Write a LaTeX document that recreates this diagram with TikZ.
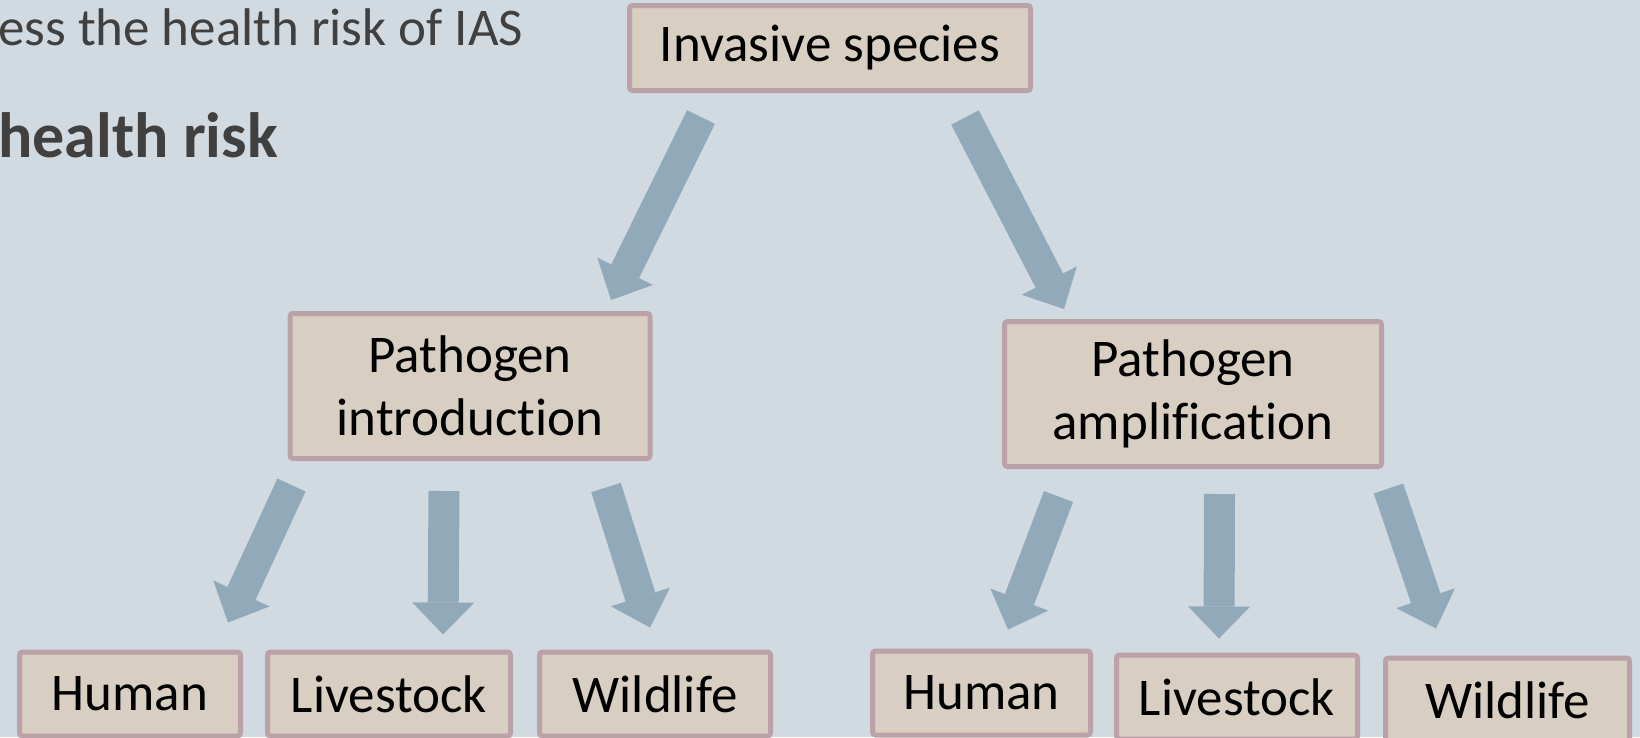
\documentclass[tikz,border=0pt]{standalone}
\usepackage{fontspec}
\setmainfont{Carlito}[Ligatures=NoCommon]
\usetikzlibrary{arrows.meta, calc, positioning}

\definecolor{bgcol}{HTML}{D1DAE1}
\definecolor{boxfill}{HTML}{D8CEC2}
\definecolor{boxline}{HTML}{BBA1A8}
\definecolor{arrowblue}{HTML}{91A9B9}
\definecolor{titlegray}{HTML}{404040}

\begin{document}
\begin{tikzpicture}[
    x=1pt, y=-1pt,
    box/.style={draw=boxline, fill=boxfill, line width=5pt, rounded corners=3pt, inner sep=0pt, align=center, font=\fontsize{53}{63}\selectfont},
    title/.style={anchor=base west, inner sep=0pt, text=titlegray},
    bigarrow/.style={draw=arrowblue, line width=31pt, -{Triangle[length=32pt, width=62pt, line width=0pt]}}
]
\fill[bgcol] (0,0) rectangle (1640,737);
\useasboundingbox (0,0) rectangle (1640,737);

\node[title, font=\fontsize{53}{63}\selectfont] (subtitle) at (-2,45) {ess the health risk of IAS};
\node[title, font=\fontsize{64}{76}\selectfont\bfseries] (heading) at (-2,157) {health risk};

\node[box, minimum width=401pt, minimum height=85pt] (inv) at (830,48) {Invasive species};
\node[box, minimum width=360pt, minimum height=145pt] (intro) at (470,386) {Pathogen\\introduction};
\node[box, minimum width=377pt, minimum height=145pt] (ampl) at (1193,394) {Pathogen\\amplification};

\node[box, minimum width=221pt, minimum height=84pt] (human1) at (130,694) {Human};
\node[box, minimum width=243pt, minimum height=84pt] (live1) at (389,694) {Livestock};
\node[box, minimum width=231pt, minimum height=84pt] (wild1) at (655,694) {Wildlife};
\node[box, minimum width=218pt, minimum height=84pt] (human2) at (981.5,693) {Human};
\node[box, minimum width=241pt, minimum height=84pt] (live2) at (1237,697) {Livestock};
\node[box, minimum width=244pt, minimum height=84pt] (wild2) at (1507.5,700) {Wildlife};

\draw[bigarrow] ($(inv.south)+(-129,24)$) -- ($(intro.north)+(141,-11)$);
\draw[bigarrow] ($(inv.south)+(135,24.5)$) -- ($(ampl.north)+(-129,-10)$);

\draw[bigarrow] ($(intro.south)+(-178.5,24)$) -- ($(human1.north)+(98,-27)$);
\draw[bigarrow] ($(intro.south)+(-26,30)$) -- ($(live1.north)+(54,-15)$);
\draw[bigarrow] ($(intro.south)+(136,26.5)$) -- ($(wild1.north)+(-5,-22)$);

\draw[bigarrow] ($(ampl.south)+(-134.5,27.5)$) -- ($(human2.north)+(26.5,-19)$);
\draw[bigarrow] ($(ampl.south)+(26.5,25)$) -- ($(live2.north)+(-18,-14)$);
\draw[bigarrow] ($(ampl.south)+(195.5,19.5)$) -- ($(wild2.north)+(-71.5,-27)$);

\end{tikzpicture}
\end{document}
